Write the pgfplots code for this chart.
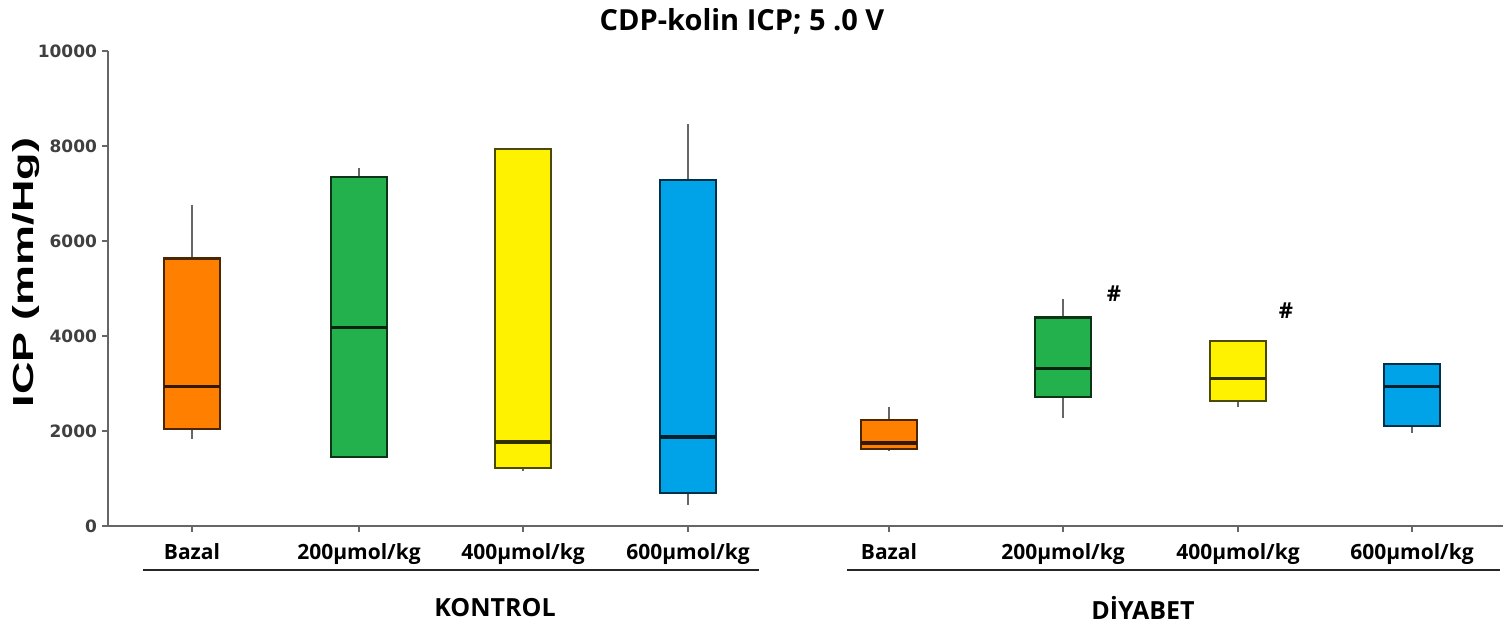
\documentclass[border=0pt]{standalone}
\usepackage{pgfplots}
\pgfplotsset{compat=1.18}
\usepgfplotslibrary{statistics}
\usepackage{fontspec}
\setmainfont{Open Sans}
\newfontfamily\dejavu{DejaVu Sans}
\newfontfamily\libsans{Liberation Sans}
\definecolor{cor}{HTML}{FF7F00}
\definecolor{cgr}{HTML}{22B14C}
\definecolor{cye}{HTML}{FFF200}
\definecolor{cbl}{HTML}{00A2E8}
\pgfplotsset{
  mybox/.style n args={7}{
    boxplot prepared={draw direction=y, draw position=#1, lower whisker=#2, lower quartile=#3, median=#4,
      upper quartile=#5, upper whisker=#6, box extend=56, whisker extend=0},
    fill=#7, draw=#7!30!black, line width=1.1pt,
    boxplot/every whisker/.style={draw=black!60, line width=0.8pt},
    boxplot/every median/.style={draw=#7!20!black, line width=1.7pt}
  }
}
\begin{document}
\begin{tikzpicture}
\useasboundingbox (0pt,0pt) rectangle (751.5pt,314.5pt);
\begin{axis}[
  at={(54pt,51.5pt)}, anchor=south west,
  scale only axis, width=697.5pt, height=237.5pt,
  xmin=108, xmax=1503, ymin=0, ymax=10000,
  clip=false,
  scaled y ticks=false, scaled x ticks=false,
  axis x line*=bottom, axis y line*=left,
  axis line style={black!60, line width=1pt},
  tick align=outside, major tick length=3pt,
  tick style={black!60, line width=0.8pt},
  xtick={192,359,523,688,889,1063,1238,1412},
  xticklabels={Bazal,200µmol/kg,400µmol/kg,600µmol/kg,Bazal,200µmol/kg,400µmol/kg,600µmol/kg},
  xticklabel style={font=\bfseries\fontsize{10.5}{10.5}\selectfont, yshift=-2pt},
  ytick={0,2000,4000,6000,8000,10000},
  yticklabels={0,2000,4000,6000,8000,10000},
  yticklabel style={font=\dejavu\bfseries\fontsize{8.5}{8.5}\selectfont, text=black!75, xshift=1pt},
  /pgf/number format/assume math mode=true,
]
\addplot[mybox={192}{1828}{2037}{2941}{5630}{6765}{cor}] coordinates {};
\addplot[mybox={359}{1450}{1450}{4180}{7353}{7542}{cgr}] coordinates {};
\addplot[mybox={523}{1155}{1218}{1765}{7941}{7962}{cye}] coordinates {};
\addplot[mybox={688}{441}{693}{1870}{7290}{8466}{cbl}] coordinates {};
\addplot[mybox={889}{1576}{1618}{1744}{2227}{2500}{cor}] coordinates {};
\addplot[mybox={1063}{2269}{2710}{3319}{4391}{4769}{cgr}] coordinates {};
\addplot[mybox={1238}{2500}{2626}{3109}{3887}{3887}{cye}] coordinates {};
\addplot[mybox={1412}{1954}{2100}{2941}{3403}{3403}{cbl}] coordinates {};
\node[font=\bfseries\fontsize{11}{11}\selectfont] at (axis cs:1114,4900) {\#};
\node[font=\bfseries\fontsize{11}{11}\selectfont] at (axis cs:1286,4540) {\#};
\draw[line width=1pt, black!85] (axis cs:143,-924) -- (axis cs:759,-924);
\draw[line width=1pt, black!85] (axis cs:847,-924) -- (axis cs:1500,-924);
\node[font=\bfseries\fontsize{12.5}{12.5}\selectfont] at (axis cs:495,-1723) {KONTROL};
\node[font=\bfseries\fontsize{12.5}{12.5}\selectfont] at (axis cs:1143,-1723) {DİYABET};
\node[font=\bfseries\fontsize{14.5}{14.5}\selectfont] at (axis cs:742,10630) {CDP-kolin ICP; 5 .0 V};
\node[rotate=90, font=\libsans\bfseries\fontsize{14.5}{14.5}\selectfont] at (axis cs:26,5336) {\scalebox{1.55}[1]{ICP (mm/Hg)}};
\end{axis}
\end{tikzpicture}
\end{document}
